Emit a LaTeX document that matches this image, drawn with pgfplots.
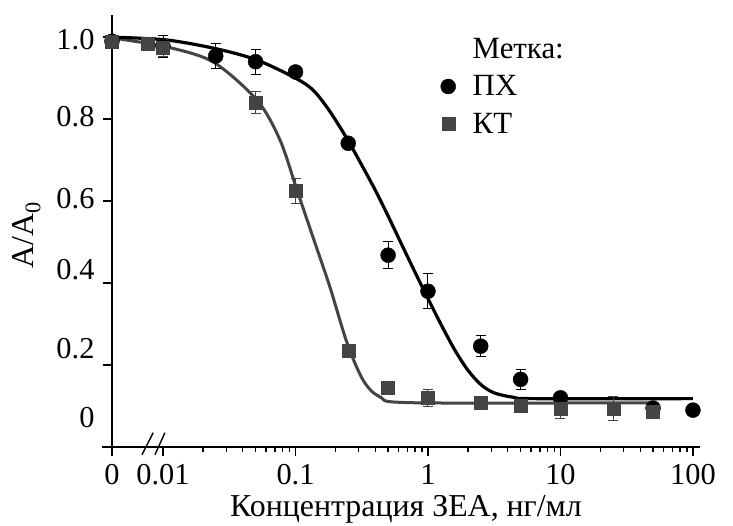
\documentclass[border=0pt]{standalone}
\usepackage{fontspec}
\setmainfont{Liberation Serif}
\usepackage{pgfplots}
\usepackage{pgfplotstable}
\pgfplotsset{compat=1.18}
\definecolor{kt}{HTML}{444444}

\pgfplotstableread{
x y e
0.00412 0.990 0.000
0.01 0.978 0.027
0.025 0.954 0.030
0.05 0.940 0.030
0.1 0.915 0.008
0.25 0.741 0.010
0.5 0.468 0.033
1 0.380 0.043
2.5 0.246 0.025
5 0.165 0.024
10 0.120 0.010
50 0.095 0.010
100 0.090 0.005
}\px

\pgfplotstableread{
x y e
0.00412 0.990 0.000
0.0076 0.985 0.000
0.01 0.973 0.020
0.05 0.840 0.027
0.1 0.625 0.030
0.25 0.234 0.010
0.5 0.144 0.010
1 0.120 0.020
2.5 0.107 0.010
5 0.100 0.015
10 0.093 0.023
25 0.094 0.030
50 0.085 0.012
}\kt

\begin{document}
\begin{tikzpicture}
\begin{axis}[
  scale only axis, width=588bp, height=432bp,
  xmode=log, xmin=0.00412, xmax=113, ymin=0, ymax=1.054,
  clip=false,
  axis x line=bottom, axis y line=left,
  axis line style={line width=1.6bp, -},
  x axis line style={shorten <=-10bp},
  xtick={0.00412,0.01,0.1,1,10,100},
  xticklabels={0,0.01,0.1,1,10,100},
  minor xtick={0.02,0.03,0.04,0.05,0.06,0.07,0.08,0.09,0.2,0.3,0.4,0.5,0.6,0.7,0.8,0.9,2,3,4,5,6,7,8,9,20,30,40,50,60,70,80,90},
  ytick={0.2,0.4,0.6,0.8,1.0},
  yticklabels={},
  extra y ticks={0.073,0.241,0.432,0.605,0.807,0.995},
  extra y tick labels={0,0.2,0.4,0.6,0.8,1.0},
  extra y tick style={major tick length=0pt, yticklabel style={xshift=-14bp}},
  xticklabel style={yshift=-5bp},
  tick align=outside,
  major tick length=9bp, minor tick length=5bp,
  every tick/.style={line width=1.4bp, black},
  tick label style={font=\fontsize{30.5}{36}\selectfont},
  xlabel={Концентрация ЗЕА, нг/мл},
  ylabel={A/A\textsubscript{0}},
  label style={font=\fontsize{32}{38}\selectfont},
  xlabel style={at={(axis description cs:0.5,-0.145)}, anchor=center},
  ylabel style={at={(axis description cs:-0.145,0.49)}, anchor=center},
  legend style={at={(axis description cs:0.557,0.952)}, anchor=north west, draw=none, fill=none,
    font=\fontsize{31}{37}\selectfont, inner sep=0pt, row sep=12bp,
    /tikz/every odd column/.append style={column sep=15bp}},
  legend cell align=left,
]
\addlegendimage{empty legend}
\addlegendentry{Метка:}
\addlegendimage{only marks, mark=*, mark size=7.5bp, black}
\addlegendentry{ПХ}
\addlegendimage{only marks, mark=square*, mark size=6.5bp, kt, draw=kt}
\addlegendentry{КТ}

% fitted curves
\addplot[forget plot, kt, line width=3bp, smooth, tension=0.5] coordinates {
(0.00412,0.998) (0.0107,0.976) (0.024,0.939) (0.0513,0.846) (0.0764,0.749)
(0.1026,0.627) (0.1355,0.512) (0.182,0.390) (0.245,0.254) (0.324,0.163)
(0.435,0.122) (0.77,0.108) (50,0.108)};
\addplot[forget plot, black, line width=3.2bp, smooth, tension=0.5] coordinates {
(0.00412,1.0) (0.0107,0.993) (0.0257,0.971) (0.0513,0.944) (0.1,0.900)
(0.1355,0.871) (0.178,0.823) (0.245,0.752) (0.316,0.688) (0.398,0.628)
(0.501,0.563) (0.631,0.495) (0.794,0.428) (1,0.362) (1.259,0.298)
(1.585,0.238) (1.995,0.188) (2.512,0.152) (3.162,0.132) (4.467,0.121)
(6.31,0.118) (100,0.118)};

% data
\addplot[forget plot, only marks, mark=*, mark size=7.5bp, black,
  error bars/.cd, y dir=both, y explicit,
  error bar style={line width=1bp, black},
  error mark options={rotate=90, mark size=5bp, line width=1bp}]
  table[x=x, y=y, y error=e] {\px};
\addplot[forget plot, only marks, mark=square*, mark size=6.5bp, kt, draw=kt,
  error bars/.cd, y dir=both, y explicit,
  error bar style={line width=1bp, kt},
  error mark options={rotate=90, mark size=5bp, line width=1bp, kt}]
  table[x=x, y=y, y error=e] {\kt};

% axis break
\draw[line width=1.4bp] (axis description cs:0.051,-0.018) -- (axis description cs:0.070,0.033);
\draw[line width=1.4bp] (axis description cs:0.073,-0.018) -- (axis description cs:0.090,0.033);
\end{axis}
\pgfresetboundingbox
\path (-112bp,-79bp) rectangle (621bp,447bp);
\end{tikzpicture}
\end{document}
